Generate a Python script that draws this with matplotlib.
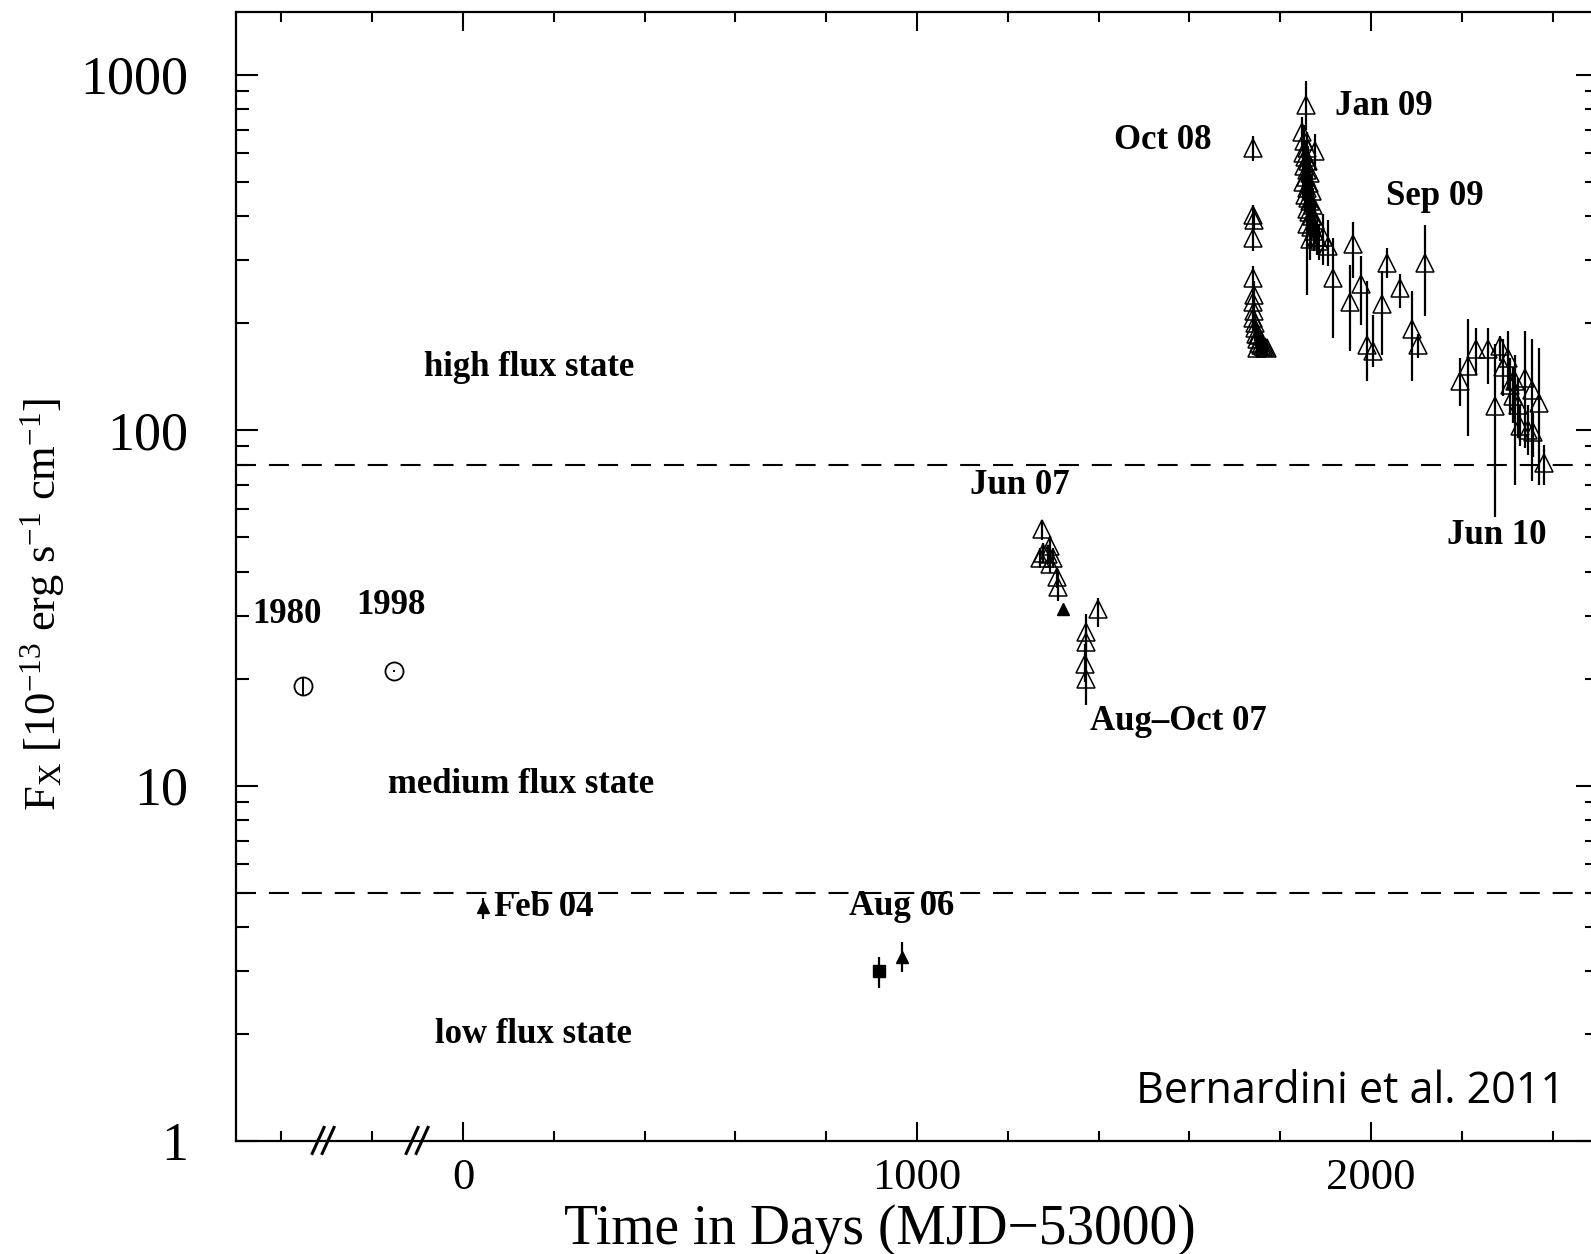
import numpy as np
import matplotlib
matplotlib.use("Agg")
import matplotlib.pyplot as plt
from matplotlib.ticker import MultipleLocator, FixedLocator, FuncFormatter, NullFormatter, LogLocator
from matplotlib.transforms import blended_transform_factory

plt.rcParams["font.family"] = ["Liberation Serif", "DejaVu Serif"]
plt.rcParams["mathtext.fontset"] = "custom"
plt.rcParams["mathtext.rm"] = "Liberation Serif"
plt.rcParams["mathtext.it"] = "Liberation Serif:italic"

# historical points (1980, 1998): open circles
circ_t = [-352, -152]
circ_f = [19.0, 21.0]
circ_lo = [18.0, 20.8]
circ_hi = [20.1, 21.2]

# filled triangles (Feb 04, Aug 06, Aug 07)
ftri_t = [45, 968, 1322]
ftri_f = [4.55, 3.30, 31.3]
ftri_lo = [4.21, 2.99, 30.6]
ftri_hi = [4.82, 3.63, 32.0]

# filled square (Aug 06)
sq_t = [917]
sq_f = [3.0]
sq_lo = [2.69]
sq_hi = [3.30]

# open triangles: Jun 07 -> Jun 10 monitoring
otri_t = [
    1275, 1293, 1278, 1289, 1271, 1300, 1293, 1308, 1311, 1399,
    1372, 1373, 1371, 1372,
    1741, 1741, 1743, 1741, 1741, 1742, 1740, 1743, 1741, 1744,
    1746, 1750, 1754, 1758, 1762, 1748, 1766, 1770, 1752, 1745,
    1857, 1848, 1852, 1858, 1850, 1855, 1862, 1853, 1860, 1866,
    1856, 1851, 1863, 1858, 1869, 1854, 1861, 1866, 1872, 1858,
    1864, 1870, 1876, 1860, 1868, 1874, 1880, 1866, 1886, 1895,
    1905, 1917, 1877,
    1961, 1954, 1979, 1991, 2005, 2035, 2024, 2064, 2119, 2090, 2104,
    2196, 2214, 2231, 2258, 2284, 2291, 2273, 2301, 2306, 2317,
    2313, 2324, 2339, 2354, 2369, 2328, 2346, 2357, 2380,
]
otri_f = [
    52.6, 47.2, 45.2, 44.7, 43.8, 43.8, 42.0, 38.5, 36.1, 31.3,
    27.0, 25.3, 22.0, 19.9,
    621, 404, 391, 347, 268, 240, 230, 216, 207, 194,
    186, 180, 176, 174, 172, 170, 171, 170, 185, 200,
    822, 690, 650, 620, 600, 585, 570, 555, 540, 530,
    515, 500, 495, 480, 470, 460, 450, 440, 430, 420,
    410, 400, 390, 380, 372, 362, 350, 345, 340, 350,
    330, 268, 608,
    333, 230, 257, 174, 167, 295, 226, 251, 295, 192, 174,
    137, 151, 169, 169, 172, 150, 117, 160, 134, 137,
    125, 118, 140, 130, 119, 103, 100, 99, 81,
]
otri_lo = [
    49, 44, 42.5, 42, 41, 41, 39.5, 36, 33, 27.9,
    24, 22.5, 19.5, 16.9,
    570, 375, 365, 320, 245, 220, 210, 197, 190, 178,
    172, 168, 165, 164, 163, 160, 162, 162, 172, 185,
    700, 620, 580, 550, 540, 520, 510, 495, 480, 470,
    460, 445, 440, 425, 415, 410, 400, 390, 380, 370,
    360, 350, 340, 240, 330, 320, 310, 300, 300, 292,
    290, 181, 540,
    268, 167, 198, 137, 150, 268, 163, 221, 209, 137, 160,
    117, 96, 143, 135, 156, 125, 57, 130, 110, 70,
    105, 95, 89, 72, 70, 90, 85, 84, 70,
]
otri_hi = [
    56, 50.5, 48, 47.5, 46.5, 46.5, 44.5, 41, 39.6, 33.8,
    30.3, 28, 25, 23,
    670, 430, 420, 375, 290, 262, 250, 236, 226, 212,
    200, 193, 188, 185, 182, 181, 180, 178, 198, 216,
    962, 760, 720, 690, 660, 650, 630, 615, 600, 590,
    570, 555, 550, 535, 525, 510, 500, 490, 480, 470,
    460, 450, 440, 520, 415, 405, 390, 390, 380, 405,
    390, 347, 680,
    386, 292, 308, 262, 211, 325, 280, 274, 378, 246, 186,
    160, 205, 194, 194, 184, 180, 175, 190, 160, 163,
    150, 140, 190, 180, 170, 118, 118, 112, 91,
]

# flux state boundaries
state_levels = [80, 5]
# axis breaks before 2004
break_t = [-308, -101]

labels = [
    ("high flux state", 145, 150),
    ("medium flux state", 129, 10.05),
    ("low flux state", 156, 2.0),
    ("1980", -388, 30.2),
    ("1998", -159, 32.0),
    ("Aug 06", 967, 4.57),
    ("Jun 07", 1227, 70),
    ("Aug\u2013Oct 07", 1575, 15.1),
    ("Oct 08", 1542, 653),
    ("Jan 09", 2029, 811),
    ("Sep 09", 2141, 454),
    ("Jun 10", 2277, 50.4),
]


def yerr(f, lo, hi):
    f, lo, hi = np.array(f), np.array(lo), np.array(hi)
    return [f - lo, hi - f]


fig = plt.figure(figsize=(15.91, 12.54), dpi=100)
ax = fig.add_axes([0.1483, 0.0901, 0.8561, 0.9003])

ax.set_yscale("log")
ax.set_xlim(-500, 2500)
ax.set_ylim(1, 1500)

for lev in state_levels:
    ax.axhline(lev, color="k", lw=1.5, ls=(0, (9.6, 6.2)), zorder=1)

ax.errorbar(otri_t, otri_f, yerr=yerr(otri_f, otri_lo, otri_hi), fmt="^",
            ms=13, mfc="none", mec="k", mew=1.1, ecolor="k", elinewidth=1.6,
            capsize=0, zorder=3)
ax.errorbar(ftri_t, ftri_f, yerr=yerr(ftri_f, ftri_lo, ftri_hi), fmt="^",
            ms=9, mfc="k", mec="k", ecolor="k", elinewidth=1.6, capsize=0, zorder=3)
ax.errorbar(sq_t, sq_f, yerr=yerr(sq_f, sq_lo, sq_hi), fmt="s",
            ms=8, mfc="k", mec="k", ecolor="k", elinewidth=1.6, capsize=0, zorder=3)
ax.errorbar(circ_t, circ_f, yerr=yerr(circ_f, circ_lo, circ_hi), fmt="o",
            ms=13, mfc="none", mec="k", mew=1.3, ecolor="k", elinewidth=1.4,
            capsize=0, zorder=3)

for txt, tx, ty in labels:
    ax.text(tx, ty, txt, ha="center", va="center", fontsize=25, fontweight="bold")
ax.text(68, 4.54, "Feb 04", ha="left", va="center", fontsize=25, fontweight="bold")

ax.text(1954, 1.38, "Bernardini et al. 2011", ha="center", va="center",
        fontsize=31, family=["Open Sans", "DejaVu Sans"])

# "//" break marks on the time axis
trans = blended_transform_factory(ax.transData, ax.transAxes)
for xb in break_t:
    for off in (-11, 11):
        ax.plot([xb + off - 13, xb + off + 13], [-0.011, 0.012], transform=trans,
                color="k", lw=2.2, clip_on=False, zorder=5)

ax.xaxis.set_major_locator(FixedLocator([0, 1000, 2000]))
ax.xaxis.set_minor_locator(MultipleLocator(200))
ax.yaxis.set_major_locator(FixedLocator([1, 10, 100, 1000]))
ax.yaxis.set_major_formatter(FuncFormatter(lambda v, p: "%d" % v))
ax.yaxis.set_minor_locator(LogLocator(base=10, subs=np.arange(2, 10)))
ax.yaxis.set_minor_formatter(NullFormatter())

ax.tick_params(axis="x", which="major", direction="in", length=14, width=1.5,
               top=True, labelsize=32, pad=12)
ax.tick_params(axis="x", which="minor", direction="in", length=7, width=1.5, top=True)
ax.tick_params(axis="y", which="major", direction="in", length=16, width=1.5,
               right=True, labelsize=39, pad=34)
ax.tick_params(axis="y", which="minor", direction="in", length=9.5, width=1.5, right=True)

for sp in ax.spines.values():
    sp.set_linewidth(1.6)

ax.set_xlabel("Time in Days (MJD\u221253000)", fontsize=40, va="center")
ax.xaxis.set_label_coords(0.473, -0.079)
ax.set_ylabel(r"F$_{\rm X}$ [10$^{-13}$ erg s$^{-1}$ cm$^{-1}$]", fontsize=32, va="center")
ax.yaxis.set_label_coords(-0.1417, 0.4756)

fig.savefig("out.png", dpi=100)
